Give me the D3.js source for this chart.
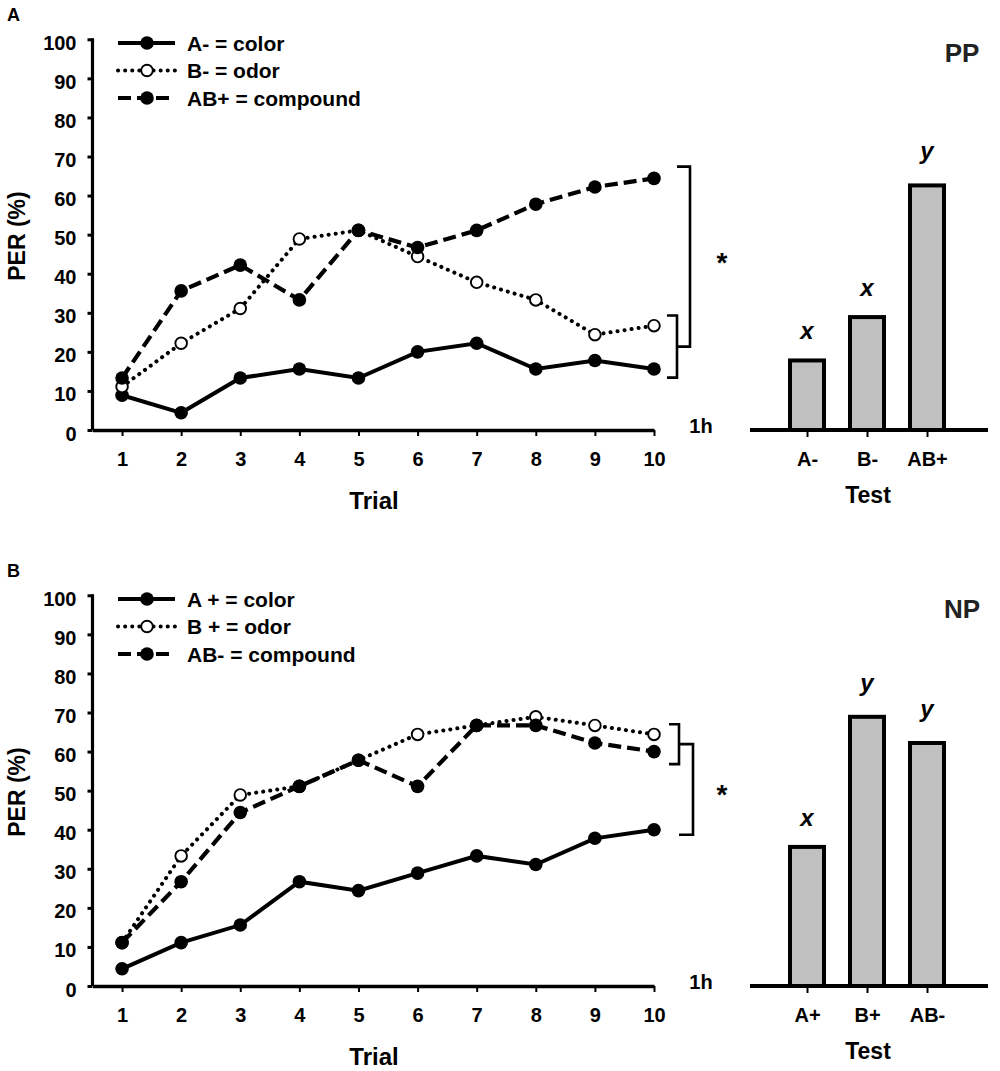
<!DOCTYPE html>
<html lang="en">
<head>
<meta charset="UTF-8">
<title>PER by trial</title>
<script src="https://d3js.org/d3.v7.min.js"></script>
<style>
  body { margin: 0; background: #fff; }
  text { font-family: "Liberation Sans", Arial, sans-serif; font-weight: bold; fill: #000; }
</style>
</head>
<body>
<script>
// data
var trials = [1, 2, 3, 4, 5, 6, 7, 8, 9, 10];
var yTicks = [0, 10, 20, 30, 40, 50, 60, 70, 80, 90, 100];

// A: positive patterning
var colorA = [8.9, 4.4, 13.3, 15.6, 13.3, 20.0, 22.2, 15.6, 17.8, 15.6];
var odorA = [11.1, 22.2, 31.1, 48.9, 51.1, 44.4, 37.8, 33.3, 24.4, 26.7];
var compoundA = [13.3, 35.6, 42.2, 33.3, 51.1, 46.7, 51.1, 57.8, 62.2, 64.4];
var legendA = ["A- = color", "B- = odor", "AB+ = compound"];
var testA = ["A-", "B-", "AB+"];
var testValuesA = [17.8, 28.9, 62.6];
var testLettersA = ["x", "x", "y"];
var bracketSmallA = [29.3, 13.4];
var bracketBigA = [67.4, 21.35];

// B: negative patterning
var colorB = [4.4, 11.1, 15.6, 26.7, 24.4, 28.9, 33.3, 31.1, 37.8, 40.0];
var odorB = [11.1, 33.3, 48.9, 51.1, 57.8, 64.4, 66.7, 68.9, 66.7, 64.4];
var compoundB = [11.1, 26.7, 44.4, 51.1, 57.8, 51.1, 66.7, 66.7, 62.2, 60.0];
var legendB = ["A + = color", "B + = odor", "AB- = compound"];
var testB = ["A+", "B+", "AB-"];
var testValuesB = [35.6, 68.9, 62.2];
var testLettersB = ["x", "y", "y"];
var bracketSmallB = [67.0, 56.8];
var bracketBigB = [61.9, 38.7];

var w = 1000, h = 1071;

var svg = d3.select("body").append("svg")
    .attr("width", w)
    .attr("height", h);

// line styles: solid / dotted with open markers / dashed
var styles = [
    {dash: null, width: 4, cap: "butt", open: false},
    {dash: "0.1,7", width: 4, cap: "round", open: true},
    {dash: "13,6", width: 4.2, cap: "butt", open: false}
];

function drawPanel(top, letter, series, legend, tests, testValues, testLetters,
                   small, big, bx, condition) {
    var g = svg.append("g").attr("transform", "translate(0," + top + ")");

    var x = d3.scaleLinear().domain([0.5, 10]).range([92.5, 654]);
    var y = d3.scaleLinear().domain([0, 100]).range([430, 39.3]);

    // panel letter
    g.append("text").attr("x", 7).attr("y", 21)
        .style("font-size", "18px").text(letter);

    // y axis
    var yAxis = g.append("g")
        .attr("transform", "translate(92.5,0)")
        .call(d3.axisLeft(y).tickValues(yTicks).tickSize(5).tickSizeOuter(0).tickPadding(11));
    yAxis.select(".domain").attr("stroke-width", 3.2).attr("d", "M0," + (y(100) - 1) + "V" + y(0));
    yAxis.selectAll(".tick line").attr("stroke-width", 3);
    yAxis.selectAll(".tick text").attr("dy", "0.5em")
        .style("font-size", "20px").style("font-family", "'Liberation Sans', Arial, sans-serif");

    // x axis
    var xAxis = g.append("g")
        .attr("transform", "translate(0,430)")
        .call(d3.axisBottom(x).tickValues(trials).tickSize(6).tickSizeOuter(0).tickPadding(16));
    xAxis.select(".domain").attr("stroke-width", 3.6);
    xAxis.selectAll(".tick line").attr("stroke-width", 2);
    xAxis.selectAll(".tick text")
        .style("font-size", "20px").style("font-family", "'Liberation Sans', Arial, sans-serif");

    // axis titles
    g.append("text")
        .attr("transform", "translate(17,236) rotate(-90)")
        .attr("text-anchor", "middle").attr("dominant-baseline", "central")
        .style("font-size", "23px").text("PER (%)");
    g.append("text").attr("x", 374).attr("y", 500)
        .attr("text-anchor", "middle").attr("dominant-baseline", "central")
        .style("font-size", "24px").text("Trial");

    var line = d3.line()
        .x(function(d, i) { return x(trials[i]); })
        .y(function(d) { return y(d); });

    series.forEach(function(s, k) {
        var st = styles[k];
        g.append("path")
            .datum(s)
            .attr("d", line)
            .attr("fill", "none")
            .attr("stroke", "#000")
            .attr("stroke-width", st.width)
            .attr("stroke-linecap", st.cap)
            .attr("stroke-dasharray", st.dash);
        g.selectAll(null)
            .data(s)
            .enter()
            .append("circle")
            .attr("cx", function(d, i) { return x(trials[i]); })
            .attr("cy", function(d) { return y(d); })
            .attr("r", st.open ? 5.8 : 6.8)
            .attr("fill", st.open ? "#fff" : "#000")
            .attr("stroke", "#000")
            .attr("stroke-width", st.open ? 1.9 : 0);
    });

    // legend
    legend.forEach(function(label, k) {
        var st = styles[k];
        var ly = 43 + k * 27.5;
        g.append("line")
            .attr("x1", 118).attr("x2", 175).attr("y1", ly).attr("y2", ly)
            .attr("stroke", "#000")
            .attr("stroke-width", st.width)
            .attr("stroke-linecap", st.cap)
            .attr("stroke-dasharray", st.dash);
        g.append("circle")
            .attr("cx", 147).attr("cy", ly)
            .attr("r", st.open ? 5.8 : 6.8)
            .attr("fill", st.open ? "#fff" : "#000")
            .attr("stroke", "#000")
            .attr("stroke-width", st.open ? 1.9 : 0);
        g.append("text")
            .attr("x", 187).attr("y", ly)
            .attr("dominant-baseline", "central")
            .style("font-size", "21px")
            .text(label);
    });

    // significance brackets
    var bracket = function(lo, hi, xv, xt) {
        g.append("path")
            .attr("d", "M" + xt + "," + y(lo) + "H" + xv + "V" + y(hi) + "H" + xt)
            .attr("fill", "none")
            .attr("stroke", "#000")
            .attr("stroke-width", 2.6);
    };
    bracket(small[0], small[1], bx[0], bx[0] - 10);
    bracket(big[0], big[1], bx[1], bx[0]);
    var midStar = y((big[0] + big[1]) / 2);
    g.append("text").attr("x", 722).attr("y", midStar + 15)
        .attr("text-anchor", "middle")
        .style("font-size", "28px").text("*");
    g.append("text").attr("x", 701).attr("y", 426)
        .attr("text-anchor", "middle").attr("dominant-baseline", "central")
        .style("font-size", "20px").text("1h");

    // test bars
    var xb = d3.scalePoint().domain(tests).range([807, 927]);
    g.append("line")
        .attr("x1", 750).attr("x2", 988).attr("y1", y(0)).attr("y2", y(0))
        .attr("stroke", "#000").attr("stroke-width", 4);

    g.selectAll(null)
        .data(testValues)
        .enter()
        .append("rect")
        .attr("x", function(d, i) { return xb(tests[i]) - 17; })
        .attr("y", function(d) { return y(d); })
        .attr("width", 34)
        .attr("height", function(d) { return y(0) - y(d); })
        .attr("fill", "#c0c0c0")
        .attr("stroke", "#000")
        .attr("stroke-width", 4);

    g.selectAll(null)
        .data(testLetters)
        .enter()
        .append("text")
        .attr("x", function(d, i) { return xb(tests[i]); })
        .attr("y", function(d, i) { return y(testValues[i]) - 21 - (/[gjpqy]/.test(d) ? 5 : 0); })
        .attr("text-anchor", "middle")
        .style("font-size", "24px")
        .style("font-style", "italic")
        .text(function(d) { return d; });

    var bAxis = g.append("g")
        .attr("transform", "translate(0," + (y(0) + 2) + ")")
        .call(d3.axisBottom(xb).tickSize(5).tickSizeOuter(0).tickPadding(15));
    bAxis.select(".domain").remove();
    bAxis.selectAll(".tick line").attr("stroke-width", 2);
    bAxis.selectAll(".tick text")
        .style("font-size", "20px").style("font-family", "'Liberation Sans', Arial, sans-serif");

    g.append("text").attr("x", 868).attr("y", 495)
        .attr("text-anchor", "middle").attr("dominant-baseline", "central")
        .style("font-size", "23px").text("Test");

    g.append("text").attr("x", 962).attr("y", 53)
        .attr("text-anchor", "middle").attr("dominant-baseline", "central")
        .style("font-size", "26px").style("fill", "#222").text(condition);
}

drawPanel(0, "A", [colorA, odorA, compoundA], legendA, testA, testValuesA, testLettersA,
          bracketSmallA, bracketBigA, [677, 690], "PP");
drawPanel(556, "B", [colorB, odorB, compoundB], legendB, testB, testValuesB, testLettersB,
          bracketSmallB, bracketBigB, [679, 693], "NP");
</script>
</body>
</html>
